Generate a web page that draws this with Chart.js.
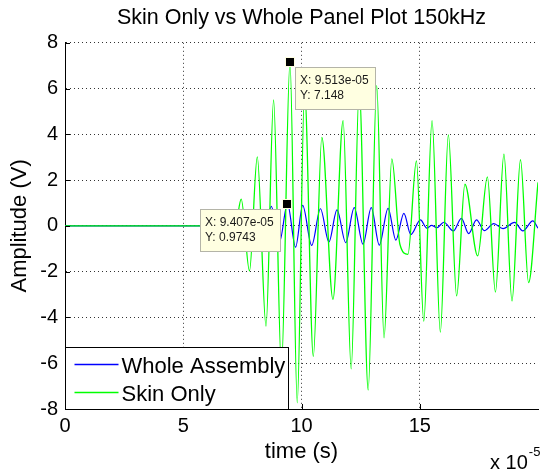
<!DOCTYPE html>
<html>
<head>
<meta charset="utf-8">
<title>Skin Only vs Whole Panel Plot 150kHz</title>
<script src="https://cdn.jsdelivr.net/npm/chart.js@4.4.1/dist/chart.umd.min.js"></script>
<style>
  html, body { margin: 0; padding: 0; background: #fff; }
  #plot { display: block; }
</style>
</head>
<body>
<canvas id="plot" width="543" height="472"></canvas>
<script>
// time is in units of 1e-5 s (axis shows "x 10^-5"), amplitude in volts
var wholeTime = [0, 8.5, 8.72, 9.07, 9.407, 9.75, 10.05, 10.43, 10.8, 11.16, 11.5, 11.87, 12.23, 12.6, 12.95, 13.29,
  13.66, 13.99, 14.33, 14.62, 15.03, 15.3, 15.5, 15.72, 16.02, 16.42, 16.76, 17.07, 17.4, 17.73, 18.13, 18.52,
  19.01, 19.36, 19.78, 20.0];
var wholeAmp = [0, 0, 0.85, -0.7, 0.9743, -0.93, 0.9, -0.85, 0.75, -0.7, 0.7, -0.73, 0.8, -0.8, 0.8, -0.84,
  0.77, -0.62, 0.55, -0.38, 0.26, -0.1, 0.02, -0.08, 0.16, -0.22, 0.33, -0.34, 0.26, -0.21, 0.1, -0.12,
  0.15, -0.22, 0.22, -0.1];

var skinTime = [0, 7.2, 7.45, 7.8, 8.13, 8.5, 8.82, 9.15, 9.513, 9.82, 10.13, 10.5, 10.86, 11.33, 11.76, 12.1,
  12.44, 12.82, 13.18, 13.49, 13.82, 14.16, 14.5, 14.86, 15.17, 15.52, 15.87, 16.21, 16.56, 16.91, 17.45, 17.86,
  18.2, 18.56, 18.9, 19.26, 19.6, 20.0];
var skinAmp = [0, 0, 1.17, -1.97, 3.02, -4.38, 5.5, -6.2, 7.148, -7.73, 5.9, -5.7, 3.87, -3.21, 4.6, -6.25,
  6.0, -7.17, 6.13, -4.89, 2.93, -0.8, -1.24, 2.84, -4.16, 4.6, -4.64, 3.98, -3.06, 1.82, -1.31, 2.14,
  -2.89, 3.14, -3.28, 2.89, -2.48, 1.9];

var seriesNames = ['Whole Assembly', 'Skin Only'];
var seriesColors = ['#0000ff', '#00ff00'];

// pinned data tips: [time, amplitude], which side of the point the box sits on
var tipTime = [9.513, 9.407];
var tipAmp = [7.148, 0.9743];
var tipSide = ['right', 'left'];

var xMin = 0, xMax = 20, xStep = 5;
var yMin = -8, yMax = 8, yStep = 2;

var FONT = "'Liberation Sans', Arial, Helvetica, sans-serif";
Chart.defaults.font.family = FONT;
Chart.defaults.color = '#000';

var toPoints = function(xs, ys){
  var pts = [];
  for(var i = 0; i < xs.length; i++){
    pts.push({x: xs[i], y: ys[i]});
  }
  return pts;
};

var fmtTime = function(t){
  // 9.513 -> "9.513e-05"
  return (t * 1e-5).toExponential(3).replace(/e-(\d)$/, 'e-0$1');
};

var overlay = {
  id: 'overlay',
  afterDatasetsDraw: function(chart){
    var ctx = chart.ctx;
    var a = chart.chartArea;
    var xs = chart.scales.x, ys = chart.scales.y;
    ctx.save();
    ctx.strokeStyle = '#000';
    ctx.lineWidth = 1;
    ctx.beginPath();
    // inward tick marks
    for(var v = yMin; v <= yMax; v += yStep){
      var py = Math.round(ys.getPixelForValue(v)) + 0.5;
      ctx.moveTo(a.left, py);
      ctx.lineTo(a.left + 5, py);
    }
    for(var u = xMin; u < xMax; u += xStep){
      var px = Math.round(xs.getPixelForValue(u)) + 0.5;
      ctx.moveTo(px, a.bottom);
      ctx.lineTo(px, a.bottom - 5);
    }
    ctx.stroke();
    ctx.restore();
  },
  afterDraw: function(chart){
    var ctx = chart.ctx;
    var a = chart.chartArea;
    var xs = chart.scales.x, ys = chart.scales.y;
    ctx.save();

    // legend box, lower left corner of the axes
    var lx = a.left + 0.5, lw = 223, lh = 62;
    var ly = Math.round(a.bottom) - lh + 0.5;
    ctx.fillStyle = '#fff';
    ctx.fillRect(lx, ly, lw, lh);
    ctx.strokeStyle = '#000';
    ctx.lineWidth = 1;
    ctx.strokeRect(lx, ly, lw, lh);
    ctx.font = '22px ' + FONT;
    ctx.textBaseline = 'alphabetic';
    ctx.textAlign = 'left';
    for(var i = 0; i < seriesNames.length; i++){
      var rowY = ly + 17 + i * 28;
      ctx.strokeStyle = seriesColors[i];
      ctx.lineWidth = 1.3;
      ctx.beginPath();
      ctx.moveTo(lx + 9, rowY);
      ctx.lineTo(lx + 53, rowY);
      ctx.stroke();
      ctx.fillStyle = '#000';
      ctx.fillText(seriesNames[i], lx + 56, rowY + 8);
    }

    // data tips
    ctx.font = '12px ' + FONT;
    for(var k = 0; k < tipTime.length; k++){
      var px = xs.getPixelForValue(tipTime[k]);
      var py = ys.getPixelForValue(tipAmp[k]);
      var l1 = 'X: ' + fmtTime(tipTime[k]);
      var l2 = 'Y: ' + tipAmp[k];
      var w = Math.ceil(Math.max(ctx.measureText(l1).width, ctx.measureText(l2).width)) + 11;
      var h = 42;
      var bx = tipSide[k] == 'right' ? Math.round(px + 5) : Math.round(px - 7 - w);
      var by = Math.round(py + 5);
      ctx.fillStyle = '#ffffe1';
      ctx.fillRect(bx + 0.5, by + 0.5, w, h);
      ctx.strokeStyle = '#b4b4a8';
      ctx.lineWidth = 1;
      ctx.strokeRect(bx + 0.5, by + 0.5, w, h);
      ctx.fillStyle = '#1a1a1a';
      ctx.textBaseline = 'middle';
      ctx.fillText(l1, bx + 5, by + 14);
      ctx.fillText(l2, bx + 5, by + 29);
      // marker square
      ctx.fillStyle = '#ffffe1';
      ctx.fillRect(Math.round(px) - 5, Math.round(py) - 5, 10, 10);
      ctx.fillStyle = '#000';
      ctx.fillRect(Math.round(px) - 4, Math.round(py) - 4, 8, 8);
    }

    // axis exponent
    ctx.fillStyle = '#000';
    ctx.textBaseline = 'alphabetic';
    ctx.font = '20px ' + FONT;
    ctx.fillText('x 10', 490, 469);
    var ew = ctx.measureText('x 10').width;
    ctx.font = '13px ' + FONT;
    ctx.fillText('-5', 490 + ew + 1, 456);
    ctx.restore();
  }
};

var chart = new Chart(document.getElementById('plot').getContext('2d'), {
  type: 'line',
  data: {
    datasets: [
      {
        label: seriesNames[0],
        data: toPoints(wholeTime, wholeAmp),
        borderColor: seriesColors[0],
        borderWidth: 1.2,
        pointRadius: 0,
        cubicInterpolationMode: 'monotone',
        order: 1
      },
      {
        label: seriesNames[1],
        data: toPoints(skinTime, skinAmp),
        borderColor: seriesColors[1],
        borderWidth: 1.3,
        pointRadius: 0,
        cubicInterpolationMode: 'monotone',
        order: 0
      }
    ]
  },
  options: {
    responsive: false,
    animation: false,
    devicePixelRatio: 1,
    layout: {padding: {top: 0, right: 1, bottom: 0, left: 0}},
    plugins: {
      legend: {display: false},
      tooltip: {enabled: false},
      title: {
        display: true,
        fullSize: false,
        text: 'Skin Only vs Whole Panel Plot 150kHz',
        font: {size: 21.5, weight: 'normal'},
        color: '#000',
        padding: {top: 5, bottom: 12}
      }
    },
    scales: {
      x: {
        type: 'linear',
        min: xMin,
        max: xMax,
        afterFit: function(s){ s.height = 63; },
        ticks: {
          stepSize: xStep,
          maxRotation: 0,
          autoSkip: false,
          padding: 5,
          font: {size: 20},
          color: '#000',
          callback: function(v){ return v >= xMax ? '' : String(v); }
        },
        grid: {
          drawTicks: false,
          color: function(c){ return (c.tick && (c.tick.value <= xMin || c.tick.value >= xMax)) ? 'rgba(0,0,0,0)' : '#333'; }
        },
        border: {display: true, color: '#000', width: 1, dash: [1, 3]},
        title: {display: true, text: 'time (s)', font: {size: 22}, color: '#000', padding: {top: 0, bottom: 7}}
      },
      y: {
        min: yMin,
        max: yMax,
        afterFit: function(s){ s.width = 65; },
        ticks: {
          stepSize: yStep,
          padding: 7,
          font: {size: 20},
          color: '#000',
          callback: function(v){ return String(v); }
        },
        grid: {
          drawTicks: false,
          color: function(c){ return (c.tick && c.tick.value <= yMin) ? 'rgba(0,0,0,0)' : '#333'; }
        },
        border: {display: true, color: '#000', width: 1, dash: [1, 3]},
        title: {display: true, text: 'Amplitude (V)', font: {size: 22}, color: '#000', padding: {top: 7, bottom: 0}}
      }
    }
  },
  plugins: [overlay]
});
</script>
</body>
</html>
